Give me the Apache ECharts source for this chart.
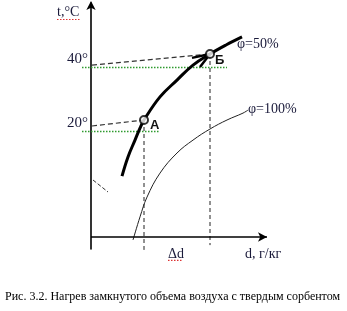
<!DOCTYPE html>
<html>
<head>
<meta charset="utf-8">
<script src="https://cdn.jsdelivr.net/npm/echarts@6/dist/echarts.min.js"></script>
<style>
html,body{margin:0;padding:0;background:#fff;}
#c{width:347px;height:311px;}
</style>
</head>
<body>
<div id="c"></div>
<script>
// Diagram values in arbitrary d (x) and t (y) units
var curvePhi50 = [[15.5,20.3],[18.5,26.7],[22,32.3],[24.5,36.3],[26.5,39],[34.5,46.7],[43,52.3],[51,57.3],[59.5,61],[67.5,64],[75.5,66.7]];
var curvePhi100 = [[21,-1],[24.5,6.7],[28,13.3],[34.5,21.3],[43,28],[51,32.3],[59.5,36],[68,39],[76,41.3],[78.5,42.3]];
var pointA = [26.5,39];
var pointB = [59.5,61];
var arrowHead = [[50.5,59.7],[59.5,61],[54.5,56.7]];
var dash40 = [[0.5,57.3],[59.5,61]];
var dash20 = [[0.5,37],[26.5,39]];
var dropA = [[26.5,39],[26.5,-4.3]];
var dropB = [[59.5,61],[59.5,-2.7]];
var strayDash = [[1,19],[8.5,15]];
var greenLine40 = [[-4.5,56.5],[68,56.5]];
var greenLine20 = [[-4.5,35.2],[34.5,35.2]];
var redLineT = [[-17,72.5],[-5.5,72.5]];
var redLineDd = [[38.5,-7.8],[45.5,-7.8]];
var xAxisEnd = [88,0];
var tickLabels = ['40°','20°'];

var chart = echarts.init(document.getElementById('c'), null, {renderer:'canvas'});
function ln(data, opt){
  return Object.assign({type:'line', data:data, showSymbol:false, symbol:'none', clip:false, silent:true, animation:false,
    lineStyle:{color:'#222', width:1}}, opt||{});
}
var serif = '"Liberation Serif","Times New Roman",serif';
var sans = '"Liberation Sans",Arial,sans-serif';
chart.setOption({
  animation:false,
  grid:{left:51, top:3, width:216, height:246},
  xAxis:{type:'value', min:-20, max:88, splitLine:{show:false}, axisTick:{show:false}, axisLabel:{show:false},
    axisLine:{show:false}},
  yAxis:{type:'value', min:-4, max:78, splitLine:{show:false}, axisTick:{show:false}, axisLabel:{show:false},
    axisLine:{show:true, onZero:true, symbol:['none','arrow'], symbolSize:[7,9], symbolOffset:[0,2], lineStyle:{color:'#000', width:1.6}}},
  series:[
    ln(greenLine40, {lineStyle:{color:'#2e9a2e', width:1.5, type:[1.5,1.5]}}),
    ln(greenLine20, {lineStyle:{color:'#2e9a2e', width:1.5, type:[1.5,1.5]}}),
    ln(redLineT, {lineStyle:{color:'#d33', width:1.2, type:[1.5,1.5]}}),
    ln(redLineDd, {lineStyle:{color:'#d33', width:1.2, type:[1.5,1.5]}}),
    ln(dash40, {lineStyle:{color:'#333', width:1.2, type:[5,3]}}),
    ln(dash20, {lineStyle:{color:'#333', width:1.2, type:[5,3]}}),
    ln(dropA, {lineStyle:{color:'#222', width:1, type:[4,3]}}),
    ln(dropB, {lineStyle:{color:'#222', width:1, type:[4,3]}}),
    ln(strayDash, {lineStyle:{color:'#333', width:1, type:[4,2]}}),
    ln(curvePhi100, {smooth:0.4, lineStyle:{color:'#222', width:1}}),
    ln(curvePhi50, {smooth:0.4, lineStyle:{color:'#000', width:3}}),
    ln(arrowHead, {lineStyle:{color:'#000', width:2.5}}),
    ln([[0,0],xAxisEnd], {lineStyle:{width:0, opacity:0},
      markLine:{silent:true, animation:false, symbol:['none','arrow'], symbolSize:[7,9], label:{show:false},
        lineStyle:{color:'#000', width:1.6, type:'solid'},
        data:[[{coord:[0,0]},{coord:xAxisEnd}]]}}),
    {type:'scatter', data:[pointA, pointB], symbol:'circle', symbolSize:8, silent:true, animation:false, z:5,
      itemStyle:{color:'#fff', borderColor:'#000', borderWidth:2}}
  ],
  graphic:[
    {type:'text', left:57, top:5, style:{text:'t,°C', font:'14px '+serif, fill:'#1a1a3a'}},
    {type:'text', left:67, top:52, style:{text:tickLabels[0], font:'15px '+serif, fill:'#1a1a3a'}},
    {type:'text', left:67, top:116, style:{text:tickLabels[1], font:'15px '+serif, fill:'#1a1a3a'}},
    {type:'text', left:237, top:37, style:{text:'φ=50%', font:'14px '+serif, fill:'#1a1a3a'}},
    {type:'text', left:248, top:102, style:{text:'φ=100%', font:'14px '+serif, fill:'#1a1a3a'}},
    {type:'text', left:215, top:54, style:{text:'Б', font:'bold 13px '+sans, fill:'#111'}},
    {type:'text', left:150, top:119, style:{text:'А', font:'bold 13px '+sans, fill:'#111'}},
    {type:'text', left:168, top:247, style:{text:'Δd', font:'14px '+serif, fill:'#1a1a3a'}},
    {type:'text', left:245, top:247, style:{text:'d, г/кг', font:'14px '+serif, fill:'#1a1a3a'}},
    {type:'text', left:5, top:291, style:{text:'Рис. 3.2. Нагрев замкнутого объема воздуха с твердым сорбентом', font:'12px '+serif, fill:'#000'}}
  ]
});
</script>
</body>
</html>
